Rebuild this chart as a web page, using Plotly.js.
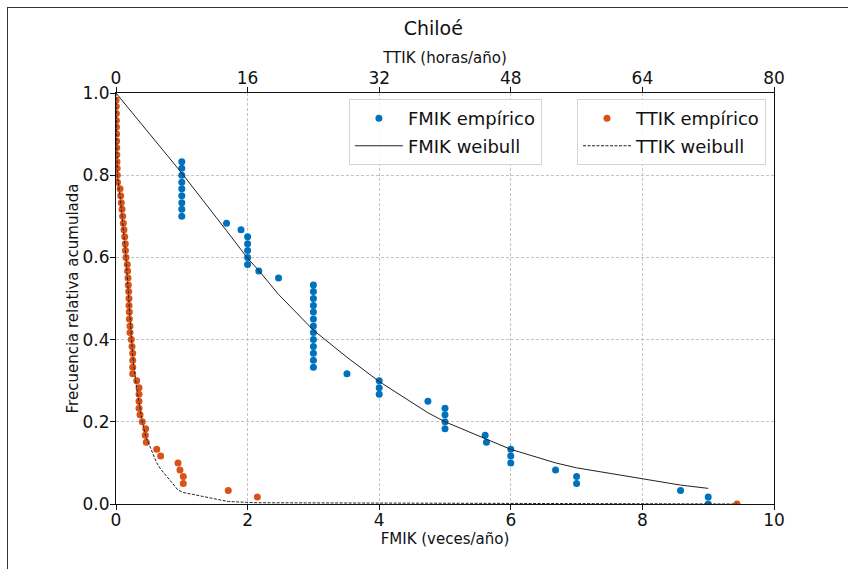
<!DOCTYPE html>
<html>
<head>
<meta charset="utf-8">
<script src="https://cdn.plot.ly/plotly-3.0.1.min.js"></script>
<style>
  html, body { margin: 0; padding: 0; background: #fff; }
  #chart { width: 848px; height: 569px; position: relative; }
  #frame { position: absolute; left: 7px; top: 7px; width: 1000px; height: 1000px;
           border: 1px solid #333; box-sizing: border-box; pointer-events: none; z-index: 10; }
  #wrap { position: relative; width: 848px; height: 569px; overflow: hidden; }
</style>
</head>
<body>
<div id="wrap">
  <div id="chart"></div>
  <div id="frame"></div>
</div>
<script>
// FMIK empirical (veces/año) vs cumulative relative frequency
const fmikEmpX = [1,1,1,1,1,1,1,1,1, 1.68, 1.9, 2,2,2,2,2, 2.17, 2.47,
  3,3,3,3,3,3,3,3,3,3,3,3,3, 3.51, 4,4,4, 4.74, 5,5,5,5, 5.61, 5.63, 6,6,6, 6.68, 7,7, 8.58, 9, 9];
const fmikEmpY = [0.833,0.817,0.800,0.783,0.767,0.750,0.733,0.717,0.700, 0.683, 0.667,
  0.650,0.633,0.617,0.600,0.583, 0.567, 0.550,
  0.533,0.517,0.500,0.483,0.467,0.450,0.433,0.417,0.400,0.383,0.367,0.350,0.333,
  0.317, 0.300,0.283,0.267, 0.250, 0.233,0.217,0.200,0.183, 0.167, 0.150,
  0.133,0.117,0.100, 0.083, 0.067,0.050, 0.033, 0.017, 0.000];

// FMIK weibull fit
const fmikWbX = [0, 1, 1.68, 1.9, 2, 2.17, 2.47, 3, 3.51, 4, 4.74, 5, 5.62, 6, 6.68, 7, 8.58, 9];
const fmikWbY = [1.0, 0.805, 0.665, 0.618, 0.598, 0.568, 0.510, 0.423, 0.357, 0.298, 0.222, 0.200,
  0.158, 0.133, 0.100, 0.088, 0.046, 0.038];

// TTIK empirical (horas/año)
const ttikEmpX = [0.02,0.03,0.04,0.05,0.06,0.07,0.08,0.09,0.10,0.12,0.14,0.16,0.18,
  0.49,0.57,0.64,0.73,0.81,0.89,0.97,1.06,1.13,1.15,1.22,1.37,1.41,1.46,1.50,1.54,1.58,1.58,
  1.62,1.62,1.70,1.70,1.86,1.95,2.03,2.03,2.03,2.03,2.52,2.80,2.80,2.80,2.80,2.92,3.20,3.61,
  3.56,3.68,4.95,5.43,7.54,7.78,8.18,8.18,13.65,17.18,75.5];
const ttikEmpY = [0.983,0.967,0.950,0.933,0.917,0.900,0.883,0.867,0.850,0.833,0.817,0.800,0.783,
  0.767,0.750,0.733,0.717,0.700,0.683,0.667,0.650,0.633,0.617,0.600,0.583,0.567,0.550,0.533,0.517,0.500,0.483,
  0.467,0.450,0.433,0.417,0.400,0.383,0.367,0.350,0.333,0.317,0.300,0.283,0.267,0.250,0.233,0.217,0.200,0.183,
  0.167,0.150,0.133,0.117,0.100,0.083,0.067,0.050,0.033,0.017,0.000];

// TTIK weibull fit
const ttikWbX = [0, 0.16, 0.49, 0.81, 1.22, 1.58, 2.03, 2.52, 2.80, 3.20, 3.61, 4.95, 5.43, 7.54, 8.18, 13.65, 17.18, 75.5];
const ttikWbY = [1.0, 0.80, 0.75, 0.69, 0.60, 0.49, 0.36, 0.28, 0.245, 0.20, 0.165, 0.10, 0.085, 0.034, 0.028, 0.006, 0.003, 0.0];

const xTicksBottom = [0, 2, 4, 6, 8, 10];
const xTicksTop = [0, 16, 32, 48, 64, 80];
const yTicks = [0, 0.2, 0.4, 0.6, 0.8, 1.0];

const FONT = 'DejaVu Sans, Verdana, sans-serif';
const BLUE = '#0072BD';
const ORANGE = '#D95319';
const GRID = '#c4c4c4';

const traces = [
  { x: fmikEmpX, y: fmikEmpY, type: 'scatter', mode: 'markers', name: 'FMIK empírico',
    marker: { color: BLUE, size: 7 }, xaxis: 'x', yaxis: 'y', legend: 'legend', legendgroup: 'a' },
  { x: fmikWbX, y: fmikWbY, type: 'scatter', mode: 'lines', name: 'FMIK weibull',
    line: { color: '#222', width: 1 }, xaxis: 'x', yaxis: 'y', legend: 'legend', legendgroup: 'b' },
  { x: ttikEmpX, y: ttikEmpY, type: 'scatter', mode: 'markers', name: 'TTIK empírico',
    marker: { color: ORANGE, size: 7 }, xaxis: 'x2', yaxis: 'y', legend: 'legend2', legendgroup: 'c' },
  { x: ttikWbX, y: ttikWbY, type: 'scatter', mode: 'lines', name: 'TTIK weibull',
    line: { color: '#222', width: 1, dash: '3px,1.5px' }, xaxis: 'x2', yaxis: 'y', legend: 'legend2', legendgroup: 'd' }
];

const legendCommon = {
  font: { family: FONT, size: 18, color: '#111' },
  bgcolor: 'rgba(255,255,255,0.85)', bordercolor: '#d6d6d6', borderwidth: 1,
  yanchor: 'top', xanchor: 'left', traceorder: 'grouped', tracegroupgap: 1,
  itemwidth: 48
};

const layout = {
  width: 848, height: 569,
  margin: { l: 116, r: 74, t: 93, b: 65 },
  paper_bgcolor: '#fff', plot_bgcolor: '#fff',
  font: { family: FONT, color: '#111' },
  title: { text: 'Chiloé', font: { family: FONT, size: 19, color: '#111' },
           x: 0.511, xref: 'container', xanchor: 'center', y: 0.951, yref: 'container', yanchor: 'middle' },
  xaxis: {
    range: [0, 10], tickvals: xTicksBottom, ticktext: xTicksBottom.map(String),
    showline: true, linecolor: '#111', linewidth: 1, mirror: false,
    ticks: 'outside', ticklen: 5, tickcolor: '#111', ticklabelstandoff: -4,
    tickfont: { family: FONT, size: 17, color: '#111' },
    showgrid: true, gridcolor: GRID, griddash: '3px,2px', gridwidth: 1, zeroline: false,
    title: { text: 'FMIK (veces/año)', font: { family: FONT, size: 15, color: '#111' }, standoff: 4 }
  },
  xaxis2: {
    range: [0, 80], tickvals: xTicksTop, ticktext: xTicksTop.map(String),
    overlaying: 'x', side: 'top', anchor: 'y',
    showline: true, linecolor: '#111', linewidth: 1,
    ticks: 'outside', ticklen: 5, tickcolor: '#111', ticklabelstandoff: -4,
    tickfont: { family: FONT, size: 17, color: '#111' },
    showgrid: false, zeroline: false,
    title: { text: 'TTIK (horas/año)', font: { family: FONT, size: 15, color: '#111' }, standoff: 0 }
  },
  yaxis: {
    range: [0, 1], tickvals: yTicks, ticktext: yTicks.map(v => v.toFixed(1)),
    showline: true, linecolor: '#111', linewidth: 1, mirror: true,
    ticks: 'outside', ticklen: 5, tickcolor: '#111', ticklabelstandoff: -3,
    tickfont: { family: FONT, size: 17, color: '#111' },
    showgrid: true, gridcolor: GRID, griddash: '3px,2px', gridwidth: 1, zeroline: false,
    title: { text: 'Frecuencia relativa acumulada', font: { family: FONT, size: 15, color: '#111' }, standoff: 0 }
  },
  legend: Object.assign({}, legendCommon, { x: 0.354, y: 0.985 }),
  legend2: Object.assign({}, legendCommon, { x: 0.7006, y: 0.985 }),
  showlegend: true
};

Plotly.newPlot('chart', traces, layout, { displayModeBar: false, staticPlot: true });
</script>
</body>
</html>
